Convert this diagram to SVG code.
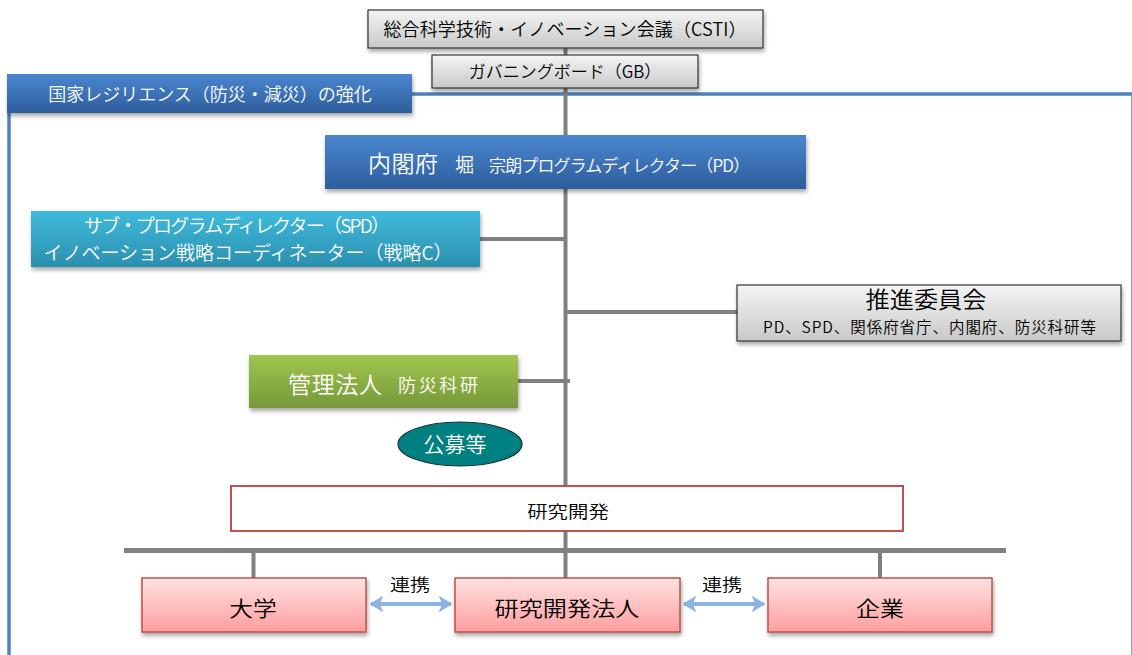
<svg xmlns="http://www.w3.org/2000/svg" width="1132" height="655" viewBox="0 0 1132 655">
<defs>
<linearGradient id="gGray" x1="0" y1="0" x2="0" y2="1"><stop offset="0" stop-color="#f4f4f4"/><stop offset="1" stop-color="#c9c9c9"/></linearGradient>
<linearGradient id="gBlue" x1="0" y1="0" x2="0" y2="1"><stop offset="0" stop-color="#4a86d0"/><stop offset="1" stop-color="#2e5d9c"/></linearGradient>
<linearGradient id="gCyan" x1="0" y1="0" x2="0" y2="1"><stop offset="0" stop-color="#3fbadc"/><stop offset="1" stop-color="#2b8faf"/></linearGradient>
<linearGradient id="gGreen" x1="0" y1="0" x2="0" y2="1"><stop offset="0" stop-color="#a0c64f"/><stop offset="1" stop-color="#779839"/></linearGradient>
<linearGradient id="gPink" x1="0" y1="0" x2="0" y2="1"><stop offset="0" stop-color="#ffe2e2"/><stop offset="1" stop-color="#ff9e9e"/></linearGradient>
<filter id="sh" x="-10%" y="-20%" width="120%" height="150%"><feDropShadow dx="1" dy="3" stdDeviation="2" flood-color="#000" flood-opacity="0.35"/></filter>
<marker id="ah" viewBox="0 0 10 10" refX="9" refY="5" markerWidth="3.4" markerHeight="4.2" orient="auto-start-reverse" markerUnits="strokeWidth" preserveAspectRatio="none"><path d="M0,0 L10,5 L0,10 L2.5,5 z" fill="#8db3e2"/></marker>
</defs>
<style>
text{font-family:"Noto Sans CJK JP","Noto Sans",sans-serif;text-anchor:middle;font-weight:350}
.s{text-anchor:start}
.w{fill:#fff}
.k{fill:#000}
.ln{stroke:#808080;stroke-width:4;fill:none}
.gray{fill:url(#gGray);stroke:#333;stroke-width:1.2}
.pink{fill:url(#gPink);stroke:#c0504d;stroke-width:1.5}
</style>
<rect x="9" y="94" width="1124" height="600" fill="none" stroke="#4f81bd" stroke-width="3.5"/>
<g id="connectors">
<line class="ln" x1="565.5" y1="44" x2="565.5" y2="578"/>
<line class="ln" x1="478" y1="239" x2="565.5" y2="239"/>
<line class="ln" x1="565.5" y1="312" x2="738" y2="312"/>
<line class="ln" x1="516" y1="381" x2="570" y2="381"/>
<line x1="124" y1="550.5" x2="1006" y2="550.5" stroke="#808080" stroke-width="5"/>
<line class="ln" x1="253.5" y1="550" x2="253.5" y2="578"/>
<line class="ln" x1="880" y1="550" x2="880" y2="578"/>
<line x1="371" y1="604" x2="451" y2="604" stroke="#8db3e2" stroke-width="4" marker-start="url(#ah)" marker-end="url(#ah)"/>
<line x1="684" y1="604" x2="764" y2="604" stroke="#8db3e2" stroke-width="4" marker-start="url(#ah)" marker-end="url(#ah)"/>
</g>
<g id="csti"><rect class="gray" x="368" y="10" width="395" height="38" filter="url(#sh)"/><text x="565" y="36" font-size="18" class="k" textLength="363">総合科学技術・イノベーション会議（CSTI）</text></g>
<g id="gb"><rect class="gray" x="432" y="55" width="266" height="33" filter="url(#sh)"/><text x="565" y="78" font-size="17" class="k">ガバニングボード（GB）</text></g>
<g id="frame-label"><rect x="7" y="74" width="405" height="39" fill="url(#gBlue)" filter="url(#sh)"/><text x="210" y="101" font-size="18" class="w">国家レジリエンス（防災・減災）の強化</text></g>
<g id="pd"><rect x="325" y="135" width="481" height="54" fill="url(#gBlue)" filter="url(#sh)"/><text x="368" y="172" class="w s" font-size="23" textLength="70">内閣府</text><text x="455" y="172" class="w s" font-size="19">堀</text><text x="489" y="172" class="w s" font-size="17" textLength="261">宗朗プログラムディレクター（PD）</text></g>
<g id="spd"><rect x="31" y="211" width="449" height="56" fill="url(#gCyan)" filter="url(#sh)"/><text x="237" y="233" font-size="19" class="w" textLength="306">サブ・プログラムディレクター（SPD）</text><text x="248" y="260" font-size="19" class="w" textLength="409">イノベーション戦略コーディネーター（戦略C）</text></g>
<g id="suishin"><rect class="gray" x="737" y="285" width="384" height="56" filter="url(#sh)"/><text x="926" y="308" font-size="23" class="k" transform="translate(926,0) scale(1.05,1) translate(-926,0)">推進委員会</text><text x="929.5" y="333" font-size="15.5" class="k" textLength="333">PD、SPD、関係府省庁、内閣府、防災科研等</text></g>
<g id="kanri"><rect x="249" y="355" width="269" height="53" fill="url(#gGreen)" filter="url(#sh)"/><text x="288" y="393" class="w s" font-size="23" textLength="94">管理法人</text><text x="398" y="392" class="w s" font-size="18" textLength="80">防災科研</text></g>
<g id="koubo"><ellipse cx="460" cy="444" rx="62" ry="22" fill="#008080" stroke="#1a3333" stroke-width="1.2"/><text x="455" y="452" font-size="21" class="w">公募等</text></g>
<g id="kenkyu"><rect x="231" y="486" width="672" height="45" fill="#fff" stroke="#c0504d" stroke-width="2"/><text font-size="17" class="k" transform="translate(568,518) scale(1.2,1)">研究開発</text></g>
<g id="daigaku"><rect class="pink" x="142" y="578" width="224" height="54" filter="url(#sh)"/><text font-size="21" class="k" transform="translate(253,616) scale(1.13,1)">大学</text></g>
<g id="houjin"><rect class="pink" x="455" y="578" width="225" height="54" filter="url(#sh)"/><text font-size="21" class="k" transform="translate(567,616) scale(1.15,1)">研究開発法人</text></g>
<g id="kigyou"><rect class="pink" x="768" y="578" width="224" height="54" filter="url(#sh)"/><text font-size="21" class="k" transform="translate(880,616) scale(1.14,1)">企業</text></g>
<g id="labels"><text font-size="17" class="k" transform="translate(410,591) scale(1.18,1)">連携</text><text font-size="17" class="k" transform="translate(722,591) scale(1.18,1)">連携</text></g>
</svg>
